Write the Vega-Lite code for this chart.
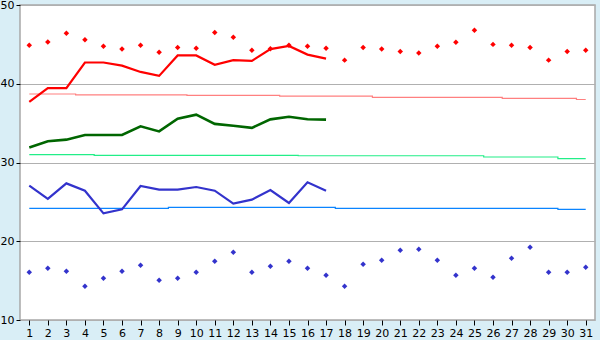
{
  "$schema": "https://vega.github.io/schema/vega-lite/v6.json",
  "autosize": {"type": "none"},
  "width": 575,
  "height": 315,
  "padding": {"left": 20, "top": 5, "right": 5, "bottom": 20},
  "background": "#d9eef6",
  "config": {
    "view": {"fill": "#ffffff", "stroke": "#a8a8a8", "strokeWidth": 1.5},
    "font": "DejaVu Sans",
    "axis": {"labelFont": "DejaVu Sans", "labelFontSize": 11, "labelColor": "#000000", "domainColor": "#a8a8a8", "tickColor": "#000000", "gridColor": "#b0b0b0", "title": null}
  },
  "data": {"values": [
    {"day":1,"hiRec":44.9,"hi":37.7,"hiNorm":38.7,"mean":31.9,"meanNorm":31.0,"lo":27.06,"loNorm":24.18,"loRec":16.06},
    {"day":2,"hiRec":45.3,"hi":39.45,"hiNorm":38.7,"mean":32.7,"meanNorm":31.0,"lo":25.37,"loNorm":24.18,"loRec":16.56},
    {"day":3,"hiRec":46.4,"hi":39.45,"hiNorm":38.7,"mean":32.9,"meanNorm":31.0,"lo":27.35,"loNorm":24.18,"loRec":16.18},
    {"day":4,"hiRec":45.6,"hi":42.7,"hiNorm":38.6,"mean":33.5,"meanNorm":31.0,"lo":26.42,"loNorm":24.18,"loRec":14.28},
    {"day":5,"hiRec":44.75,"hi":42.7,"hiNorm":38.6,"mean":33.5,"meanNorm":30.9,"lo":23.54,"loNorm":24.18,"loRec":15.29},
    {"day":6,"hiRec":44.4,"hi":42.3,"hiNorm":38.6,"mean":33.5,"meanNorm":30.9,"lo":24.05,"loNorm":24.18,"loRec":16.18},
    {"day":7,"hiRec":44.9,"hi":41.5,"hiNorm":38.6,"mean":34.6,"meanNorm":30.9,"lo":27.02,"loNorm":24.18,"loRec":16.94},
    {"day":8,"hiRec":44.0,"hi":41.0,"hiNorm":38.6,"mean":33.95,"meanNorm":30.9,"lo":26.55,"loNorm":24.18,"loRec":15.04},
    {"day":9,"hiRec":44.6,"hi":43.6,"hiNorm":38.6,"mean":35.55,"meanNorm":30.9,"lo":26.55,"loNorm":24.31,"loRec":15.29},
    {"day":10,"hiRec":44.5,"hi":43.6,"hiNorm":38.53,"mean":36.07,"meanNorm":30.9,"lo":26.89,"loNorm":24.31,"loRec":16.06},
    {"day":11,"hiRec":46.5,"hi":42.4,"hiNorm":38.53,"mean":34.9,"meanNorm":30.9,"lo":26.42,"loNorm":24.31,"loRec":17.45},
    {"day":12,"hiRec":45.9,"hi":43.0,"hiNorm":38.53,"mean":34.67,"meanNorm":30.9,"lo":24.77,"loNorm":24.31,"loRec":18.6},
    {"day":13,"hiRec":44.25,"hi":42.9,"hiNorm":38.53,"mean":34.4,"meanNorm":30.9,"lo":25.28,"loNorm":24.31,"loRec":16.06},
    {"day":14,"hiRec":44.45,"hi":44.4,"hiNorm":38.53,"mean":35.48,"meanNorm":30.9,"lo":26.51,"loNorm":24.31,"loRec":16.82},
    {"day":15,"hiRec":44.9,"hi":44.8,"hiNorm":38.44,"mean":35.8,"meanNorm":30.9,"lo":24.86,"loNorm":24.31,"loRec":17.45},
    {"day":16,"hiRec":44.75,"hi":43.7,"hiNorm":38.44,"mean":35.5,"meanNorm":30.86,"lo":27.48,"loNorm":24.31,"loRec":16.56},
    {"day":17,"hiRec":44.5,"hi":43.2,"hiNorm":38.44,"mean":35.44,"meanNorm":30.86,"lo":26.42,"loNorm":24.31,"loRec":15.68},
    {"day":18,"hiRec":43.0,"hi":null,"hiNorm":38.44,"mean":null,"meanNorm":30.86,"lo":null,"loNorm":24.18,"loRec":14.28},
    {"day":19,"hiRec":44.6,"hi":null,"hiNorm":38.44,"mean":null,"meanNorm":30.86,"lo":null,"loNorm":24.18,"loRec":17.07},
    {"day":20,"hiRec":44.4,"hi":null,"hiNorm":38.27,"mean":null,"meanNorm":30.86,"lo":null,"loNorm":24.18,"loRec":17.58},
    {"day":21,"hiRec":44.1,"hi":null,"hiNorm":38.27,"mean":null,"meanNorm":30.86,"lo":null,"loNorm":24.18,"loRec":18.85},
    {"day":22,"hiRec":43.9,"hi":null,"hiNorm":38.27,"mean":null,"meanNorm":30.86,"lo":null,"loNorm":24.18,"loRec":18.98},
    {"day":23,"hiRec":44.75,"hi":null,"hiNorm":38.27,"mean":null,"meanNorm":30.86,"lo":null,"loNorm":24.18,"loRec":17.58},
    {"day":24,"hiRec":45.26,"hi":null,"hiNorm":38.27,"mean":null,"meanNorm":30.86,"lo":null,"loNorm":24.18,"loRec":15.68},
    {"day":25,"hiRec":46.8,"hi":null,"hiNorm":38.27,"mean":null,"meanNorm":30.86,"lo":null,"loNorm":24.18,"loRec":16.56},
    {"day":26,"hiRec":45.0,"hi":null,"hiNorm":38.27,"mean":null,"meanNorm":30.7,"lo":null,"loNorm":24.18,"loRec":15.42},
    {"day":27,"hiRec":44.9,"hi":null,"hiNorm":38.15,"mean":null,"meanNorm":30.7,"lo":null,"loNorm":24.18,"loRec":17.83},
    {"day":28,"hiRec":44.6,"hi":null,"hiNorm":38.15,"mean":null,"meanNorm":30.7,"lo":null,"loNorm":24.18,"loRec":19.23},
    {"day":29,"hiRec":43.0,"hi":null,"hiNorm":38.15,"mean":null,"meanNorm":30.7,"lo":null,"loNorm":24.18,"loRec":16.06},
    {"day":30,"hiRec":44.1,"hi":null,"hiNorm":38.15,"mean":null,"meanNorm":30.5,"lo":null,"loNorm":24.06,"loRec":16.06},
    {"day":31,"hiRec":44.25,"hi":null,"hiNorm":38.0,"mean":null,"meanNorm":30.5,"lo":null,"loNorm":24.06,"loRec":16.69}
  ]},
  "encoding": {
    "x": {"field": "day", "type": "quantitative",
      "scale": {"domain": [0.5, 31.5], "nice": false, "zero": false},
      "axis": {"values": [1,2,3,4,5,6,7,8,9,10,11,12,13,14,15,16,17,18,19,20,21,22,23,24,25,26,27,28,29,30,31], "grid": false, "tickSize": 5, "labelPadding": 2, "domain": false, "labelFlush": false}}
  },
  "layer": [
    {"mark": {"type": "line", "interpolate": "step", "color": "#ff8080", "strokeWidth": 1.2},
     "encoding": {"y": {"field": "hiNorm", "type": "quantitative",
       "scale": {"domain": [10, 50], "nice": false, "zero": false},
       "axis": {"values": [10,15,20,25,30,35,40,45,50], "grid": true, "tickSize": 4, "labelPadding": 2, "domain": false, "labelFlush": false}}}},
    {"mark": {"type": "line", "interpolate": "step", "color": "#22ee88", "strokeWidth": 1.2},
     "encoding": {"y": {"field": "meanNorm", "type": "quantitative"}}},
    {"mark": {"type": "line", "interpolate": "step", "color": "#0a84ff", "strokeWidth": 1.2},
     "encoding": {"y": {"field": "loNorm", "type": "quantitative"}}},
    {"mark": {"type": "line", "color": "#ff0000", "strokeWidth": 2.2},
     "encoding": {"y": {"field": "hi", "type": "quantitative"}}},
    {"mark": {"type": "line", "color": "#006600", "strokeWidth": 2.6},
     "encoding": {"y": {"field": "mean", "type": "quantitative"}}},
    {"mark": {"type": "line", "color": "#3333cc", "strokeWidth": 2.2},
     "encoding": {"y": {"field": "lo", "type": "quantitative"}}},
    {"mark": {"type": "point", "shape": "diamond", "filled": true, "color": "#ff0000", "size": 30, "opacity": 1},
     "encoding": {"y": {"field": "hiRec", "type": "quantitative"}}},
    {"mark": {"type": "point", "shape": "diamond", "filled": true, "color": "#3333cc", "size": 30, "opacity": 1},
     "encoding": {"y": {"field": "loRec", "type": "quantitative"}}}
  ]
}
